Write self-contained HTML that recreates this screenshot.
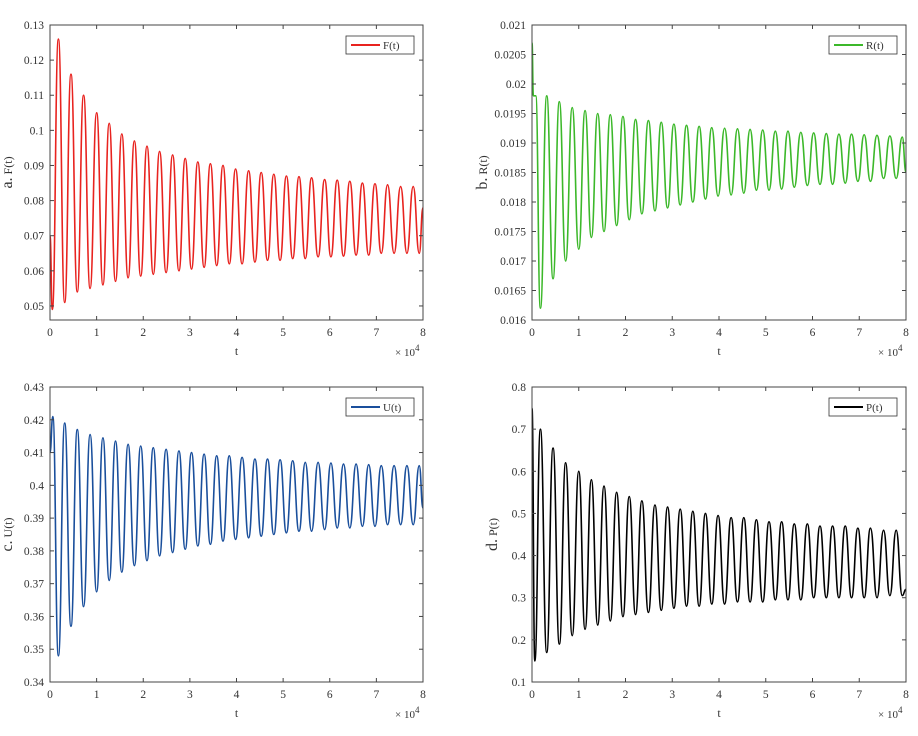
<!DOCTYPE html>
<html><head><meta charset="utf-8"><style>
body{margin:0;background:#fff;width:918px;height:731px;overflow:hidden}
svg text{font-family:"Liberation Serif",serif;fill:#333}
</style></head><body>
<svg id="c" width="918" height="731"></svg>
<script>
// Shared extrema times (×10^4)
const tA=[0.18,0.45,0.72,1.00,1.27,1.54,1.81,2.08,2.35,2.63,2.90,3.17,3.44,3.71,3.98,4.26,4.53,4.80,5.07,5.34,5.61,5.89,6.16,6.43,6.70,6.97,7.24,7.52,7.79];
const tB=[0.315,0.585,0.86,1.135,1.405,1.675,1.945,2.215,2.49,2.765,3.035,3.305,3.575,3.845,4.12,4.395,4.665,4.935,5.205,5.475,5.75,6.025,6.295,6.565,6.835,7.105,7.38,7.655,7.92];
// F(t)
const fHi=[0.126,0.116,0.110,0.105,0.102,0.099,0.097,0.0955,0.094,0.093,0.092,0.091,0.0905,0.090,0.089,0.0885,0.088,0.0875,0.087,0.0868,0.0865,0.086,0.0858,0.0855,0.085,0.0848,0.0845,0.084,0.084];
const fLo=[0.051,0.054,0.055,0.056,0.057,0.058,0.0585,0.059,0.0595,0.060,0.0605,0.061,0.0615,0.062,0.062,0.0625,0.063,0.063,0.0635,0.0635,0.064,0.064,0.0642,0.0645,0.0645,0.065,0.065,0.065,0.065];
const fStart=[[0,0.070],[0.05,0.049]], fEnd=0.078;
// R(t)
const rLo=[0.0162,0.0167,0.0170,0.0172,0.0174,0.0175,0.0176,0.0177,0.0178,0.01785,0.0179,0.01795,0.0180,0.01805,0.0181,0.01812,0.01815,0.0182,0.0182,0.01822,0.01825,0.01828,0.0183,0.0183,0.01832,0.01835,0.01835,0.0184,0.0184];
const rHi=[0.0198,0.0197,0.0196,0.01955,0.0195,0.01948,0.01945,0.0194,0.01938,0.01935,0.01932,0.0193,0.01928,0.01926,0.01925,0.01924,0.01923,0.01922,0.0192,0.0192,0.01918,0.01917,0.01916,0.01915,0.01915,0.01914,0.01913,0.01912,0.0191];
const rStart=[[0,0.0207],[0.03,0.0198],[0.08,0.0198]], rEnd=0.0185;
// U(t)
const uLo=[0.348,0.357,0.363,0.3675,0.371,0.3735,0.3755,0.377,0.3785,0.3795,0.3805,0.3815,0.382,0.383,0.3835,0.384,0.3845,0.385,0.3855,0.386,0.386,0.3865,0.387,0.387,0.3875,0.3875,0.388,0.388,0.388];
const uHi=[0.419,0.417,0.4155,0.4145,0.4135,0.4125,0.412,0.4115,0.411,0.4105,0.410,0.4095,0.409,0.409,0.4085,0.408,0.408,0.4078,0.4075,0.407,0.407,0.4068,0.4065,0.4065,0.4063,0.406,0.406,0.406,0.406];
const uStart=[[0,0.41],[0.06,0.421]], uEnd=0.393;
// P(t)
const pHi=[0.70,0.655,0.62,0.60,0.58,0.565,0.55,0.54,0.53,0.52,0.515,0.51,0.505,0.50,0.495,0.49,0.49,0.485,0.48,0.48,0.475,0.475,0.47,0.47,0.47,0.465,0.465,0.46,0.46];
const pLo=[0.17,0.19,0.21,0.225,0.235,0.245,0.255,0.26,0.265,0.27,0.275,0.28,0.28,0.285,0.285,0.29,0.29,0.29,0.295,0.295,0.295,0.30,0.30,0.30,0.30,0.30,0.30,0.305,0.305];
const pStart=[[0,0.75],[0.06,0.15]], pEnd=0.32;
const xTicks=[0,1,2,3,4,5,6,7,8];

const NS="http://www.w3.org/2000/svg", svg=document.getElementById('c');
function mk(tag,attrs,parent){const e=document.createElementNS(NS,tag);for(const k in attrs)e.setAttribute(k,attrs[k]);(parent||svg).appendChild(e);return e;}

const panels=[
 {id:'a',L:50,T:25,R:423,B:320,tx:12,ymin:0.046,ymax:0.13,yt:[0.05,0.06,0.07,0.08,0.09,0.1,0.11,0.12,0.13],yl:['0.05','0.06','0.07','0.08','0.09','0.1','0.11','0.12','0.13'],col:'#e8231f',name:'F(t)',start:fStart,first:tA,firstV:fHi,second:tB,secondV:fLo,end:fEnd},
 {id:'b',L:532,T:25,R:906,B:320,tx:487,ymin:0.016,ymax:0.021,yt:[0.016,0.0165,0.017,0.0175,0.018,0.0185,0.019,0.0195,0.02,0.0205,0.021],yl:['0.016','0.0165','0.017','0.0175','0.018','0.0185','0.019','0.0195','0.02','0.0205','0.021'],col:'#3cb82a',name:'R(t)',start:rStart,first:tA,firstV:rLo,second:tB,secondV:rHi,end:rEnd},
 {id:'c',L:50,T:387,R:423,B:682,tx:12,ymin:0.34,ymax:0.43,yt:[0.34,0.35,0.36,0.37,0.38,0.39,0.4,0.41,0.42,0.43],yl:['0.34','0.35','0.36','0.37','0.38','0.39','0.4','0.41','0.42','0.43'],col:'#1a4f9c',name:'U(t)',start:uStart,first:tA,firstV:uLo,second:tB,secondV:uHi,end:uEnd},
 {id:'d',L:532,T:387,R:906,B:682,tx:497,ymin:0.1,ymax:0.8,yt:[0.1,0.2,0.3,0.4,0.5,0.6,0.7,0.8],yl:['0.1','0.2','0.3','0.4','0.5','0.6','0.7','0.8'],col:'#000',name:'P(t)',start:pStart,first:tA,firstV:pHi,second:tB,secondV:pLo,end:pEnd}
];

panels.forEach(p=>{
 const g=mk('g',{});
 
 
 const xs=v=>p.L+(v-0)/8*(p.R-p.L);
 const ys=v=>p.B-(v-p.ymin)/(p.ymax-p.ymin)*(p.B-p.T);
 const pts=p.start.map(a=>[a[0],a[1]]);
 for(let i=0;i<p.first.length;i++){pts.push([p.first[i],p.firstV[i]]);pts.push([p.second[i],p.secondV[i]]);}
 pts.push([8,p.end]);
 let d='M'+xs(pts[0][0]).toFixed(2)+','+ys(pts[0][1]).toFixed(2);
 for(let i=1;i<pts.length;i++){const x0=xs(pts[i-1][0]),x1=xs(pts[i][0]),y0=ys(pts[i-1][1]),y1=ys(pts[i][1]);const m=(x0+x1)/2;d+=`C${m.toFixed(2)},${y0.toFixed(2)} ${m.toFixed(2)},${y1.toFixed(2)} ${x1.toFixed(2)},${y1.toFixed(2)}`;}
 const clip=mk('clipPath',{id:'cl'+p.id},g);mk('rect',{x:p.L,y:p.T,width:p.R-p.L,height:p.B-p.T},clip);
 const line=mk('path',{d:d,fill:'none',stroke:p.col,'stroke-width':1.6,'clip-path':'url(#cl'+p.id+')'},g);
 
 
 const box=mk('rect',{x:p.L,y:p.T,width:p.R-p.L,height:p.B-p.T,fill:'none',stroke:'#444','stroke-width':1},g);
 
 
 xTicks.forEach(v=>{const x=xs(v);
  mk('line',{x1:x,x2:x,y1:p.B,y2:p.B-4,stroke:'#444'},g);mk('line',{x1:x,x2:x,y1:p.T,y2:p.T+4,stroke:'#444'},g);
  const t=mk('text',{x:x,y:p.B+16,'text-anchor':'middle','font-size':11.5},g);t.textContent=v;
  
  });
 p.yt.forEach((v,i)=>{const y=ys(v);
  mk('line',{x1:p.L,x2:p.L+4,y1:y,y2:y,stroke:'#444'},g);mk('line',{x1:p.R,x2:p.R-4,y1:y,y2:y,stroke:'#444'},g);
  const t=mk('text',{x:p.L-6,y:y+4,'text-anchor':'end','font-size':11.5},g);t.textContent=p.yl[i];
  
  });
 const xl=mk('text',{x:(p.L+p.R)/2,y:p.B+35,'text-anchor':'middle','font-size':12},g);xl.textContent='t';
 
 
 const ex=mk('text',{x:p.R-28,y:p.B+36,'font-size':11},g);ex.innerHTML='× 10<tspan dy="-5" font-size="9">4</tspan>';
 
 
 const yl=mk('text',{transform:`translate(${p.tx},${(p.T+p.B)/2}) rotate(-90)`,'text-anchor':'middle','font-size':12},g);
 yl.innerHTML=`<tspan font-size="16">${p.id}.</tspan> ${p.name}`;
 
 
 const lg=mk('g',{},g);
 
 
 mk('rect',{x:p.R-77,y:p.T+11,width:68,height:18,fill:'#fff',stroke:'#333','stroke-width':0.8},lg);
 mk('line',{x1:p.R-72,x2:p.R-43,y1:p.T+20,y2:p.T+20,stroke:p.col,'stroke-width':2},lg);
 const lt=mk('text',{x:p.R-40,y:p.T+24,'font-size':11},lg);lt.textContent=p.name;
 
 
});
</script>
</body></html>
